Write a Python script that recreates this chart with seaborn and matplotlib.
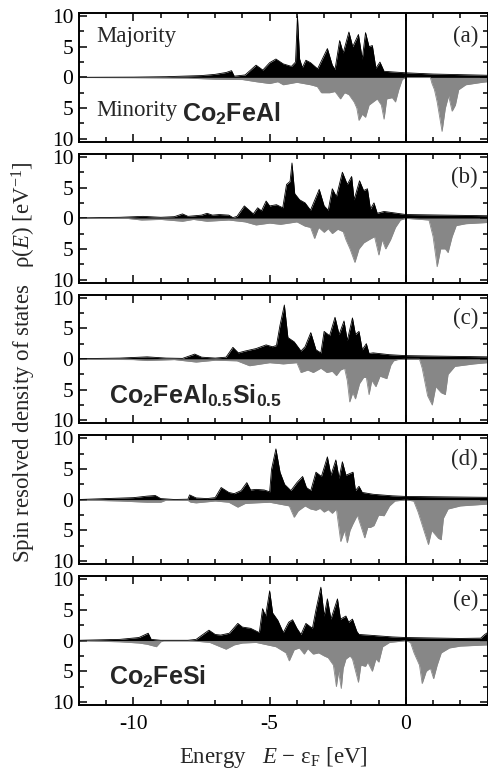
import numpy as np
import pandas as pd
import matplotlib
matplotlib.use("Agg")
import matplotlib.pyplot as plt
from matplotlib.ticker import MultipleLocator, FuncFormatter
import seaborn as sns

# ---------------- data ----------------
panel_tags = ["(a)", "(b)", "(c)", "(d)", "(e)"]

E_maj_a = [-12, -10, -8.8, -7.5, -7.0, -6.6, -6.4, -6.3, -5.9, -5.5, -5.25, -5.0, -4.77, -4.5, -4.2, -4.05, -3.98, -3.9, -3.8, -3.67, -3.5, -3.24, -2.88, -2.7, -2.6, -2.43, -2.3, -2.09, -1.95, -1.74, -1.6, -1.48, -1.35, -1.23, -1.1, -0.95, -0.8, -0.5, 0, 1, 2, 3]
D_maj_a = [0.02, 0.05, 0.12, 0.3, 0.5, 0.8, 1.1, 0.2, 0.4, 2.0, 1.2, 2.4, 3.0, 2.2, 1.8, 2.5, 10.0, 3.0, 1.6, 2.8, 2.4, 1.4, 4.7, 2.0, 1.3, 6.0, 4.0, 7.4, 5.0, 7.0, 3.0, 7.3, 5.0, 5.2, 1.5, 2.5, 1.0, 0.9, 0.75, 0.55, 0.45, 0.35]
E_min_a = [-12, -10, -8, -7, -6, -5.5, -5.0, -4.7, -4.5, -4.0, -3.5, -3.25, -3.1, -2.8, -2.6, -2.4, -2.25, -2.09, -1.9, -1.8, -1.72, -1.6, -1.48, -1.35, -1.2, -1.05, -0.9, -0.8, -0.7, -0.5, -0.38, -0.26, -0.13, 0, 0.9, 0.96, 1.05, 1.15, 1.33, 1.45, 1.57, 1.7, 1.82, 1.94, 2.2, 2.8, 3]
D_min_a = [0.02, 0.05, 0.12, 0.3, 0.35, 0.7, 1.0, 0.7, 1.2, 0.8, 1.2, 1.5, 2.5, 2.5, 2.3, 3.5, 2.5, 2.8, 4.0, 5.0, 7.0, 6.0, 6.5, 4.5, 4.0, 3.5, 4.5, 6.8, 3.5, 3.3, 4.0, 2.0, 0.3, 0.02, 0.02, 1.0, 2.0, 4.0, 8.8, 5.0, 3.0, 5.5, 4.5, 2.0, 1.2, 0.8, 0.7]

E_maj_b = [-12, -10.5, -9.65, -9.0, -8.5, -8.2, -8.0, -7.5, -7.3, -7.1, -6.85, -6.5, -6.35, -6.2, -5.93, -5.6, -5.44, -5.3, -5.13, -5.0, -4.75, -4.52, -4.38, -4.25, -4.18, -4.08, -3.9, -3.7, -3.5, -3.18, -3.0, -2.85, -2.7, -2.55, -2.33, -2.15, -1.99, -1.9, -1.7, -1.55, -1.41, -1.3, -1.17, -1.05, -0.8, 0, 1.5, 3]
D_maj_b = [0.05, 0.15, 0.3, 0.15, 0.25, 0.7, 0.3, 0.5, 0.8, 0.5, 0.6, 0.5, 0.1, 0.3, 2.0, 0.7, 1.7, 1.2, 2.8, 2.0, 2.2, 1.7, 5.5, 6.0, 9.0, 4.0, 3.0, 2.5, 1.3, 4.7, 2.0, 1.3, 4.8, 3.5, 7.5, 5.5, 6.8, 3.0, 6.1, 4.5, 4.8, 1.5, 2.5, 0.8, 1.1, 0.6, 0.5, 0.4]
E_min_b = [-12, -10.2, -9.7, -9.0, -8.2, -7.8, -7.3, -6.5, -5.9, -5.5, -5.0, -4.6, -4.0, -3.7, -3.5, -3.35, -3.2, -3.0, -2.85, -2.7, -2.5, -2.3, -2.2, -2.05, -1.87, -1.72, -1.54, -1.35, -1.15, -0.99, -0.87, -0.74, -0.56, -0.38, -0.2, 0, 0.85, 1.0, 1.15, 1.28, 1.45, 1.55, 1.7, 1.85, 2.2, 3]
D_min_b = [0.02, 0.05, 0.3, 0.2, 0.5, 0.2, 0.5, 0.3, 0.6, 1.1, 0.8, 1.0, 0.6, 1.3, 1.5, 3.3, 1.5, 2.3, 1.7, 2.5, 1.8, 2.2, 3.5, 5.0, 7.2, 5.0, 4.0, 3.5, 3.0, 6.0, 3.5, 5.0, 3.5, 1.5, 0.3, 0.02, 0.3, 3.0, 7.9, 5.0, 5.0, 5.6, 3.0, 1.2, 0.9, 0.7]

E_maj_c = [-12, -10.5, -9.5, -8.8, -8.2, -7.75, -7.5, -7.0, -6.6, -6.35, -6.15, -5.9, -5.5, -5.13, -4.9, -4.75, -4.62, -4.46, -4.33, -4.1, -3.85, -3.7, -3.49, -3.3, -3.12, -3.0, -2.8, -2.6, -2.45, -2.27, -2.15, -1.96, -1.85, -1.72, -1.6, -1.45, -1.35, -1.2, -0.6, 0, 3]
D_maj_c = [0.05, 0.15, 0.35, 0.15, 0.1, 0.8, 0.3, 0.15, 0.3, 1.9, 1.0, 1.3, 1.7, 2.3, 2.0, 2.2, 5.5, 8.8, 3.5, 2.8, 1.3, 2.0, 4.3, 1.5, 1.0, 4.5, 3.8, 6.8, 4.0, 6.2, 3.0, 6.7, 4.0, 4.5, 1.5, 2.5, 0.9, 1.0, 0.7, 0.55, 0.35]
E_min_c = [-12, -10, -9.5, -8.5, -7.7, -7.0, -6.2, -5.74, -5.0, -4.5, -4.0, -3.85, -3.6, -3.4, -3.12, -2.9, -2.7, -2.55, -2.4, -2.25, -2.15, -2.06, -1.95, -1.85, -1.7, -1.55, -1.45, -1.35, -1.25, -1.1, -0.95, -0.7, -0.55, -0.45, -0.3, 0, 0.5, 0.6, 0.8, 0.97, 1.1, 1.3, 1.45, 1.55, 1.8, 2.5, 3]
D_min_c = [0.02, 0.1, 0.25, 0.1, 0.5, 0.2, 0.3, 1.1, 0.6, 0.8, 0.6, 2.2, 1.8, 2.2, 1.5, 2.2, 2.0, 2.7, 1.8, 1.5, 3.5, 7.0, 5.5, 6.5, 4.0, 3.0, 3.0, 5.8, 3.5, 4.5, 2.8, 3.2, 1.0, 0.3, 0.1, 0.02, 0.02, 1.5, 6.0, 7.5, 4.5, 5.5, 5.8, 2.5, 1.2, 0.8, 0.6]

E_maj_d = [-12, -11, -10, -9.5, -9.2, -9.0, -8.5, -8.0, -7.94, -7.7, -7.3, -7.0, -6.78, -6.5, -6.3, -6.05, -5.84, -5.7, -5.5, -5.2, -5.0, -4.93, -4.77, -4.62, -4.45, -4.22, -4.0, -3.79, -3.65, -3.49, -3.3, -3.1, -2.88, -2.75, -2.57, -2.45, -2.33, -2.2, -1.94, -1.85, -1.72, -1.6, -1.2, -0.5, 0, 3]
D_maj_d = [0.05, 0.2, 0.35, 0.6, 0.7, 0.2, 0.05, 0.1, 0.8, 0.3, 0.2, 0.35, 2.0, 1.2, 1.0, 1.5, 2.8, 1.6, 1.7, 1.6, 1.3, 5.0, 8.3, 4.5, 2.5, 1.5, 2.8, 3.8, 2.0, 1.5, 4.5, 3.8, 7.0, 4.0, 6.5, 3.5, 6.2, 4.0, 4.5, 1.5, 2.2, 1.2, 0.9, 0.65, 0.55, 0.4]
E_min_d = [-12, -10.5, -9.5, -9.0, -8.8, -8.0, -7.9, -7.7, -7.0, -6.5, -6.17, -5.9, -5.5, -5.0, -4.28, -4.1, -3.95, -3.7, -3.5, -3.3, -3.15, -3.0, -2.85, -2.7, -2.55, -2.39, -2.25, -2.15, -2.05, -1.95, -1.78, -1.51, -1.4, -1.3, -1.17, -1.0, -0.8, -0.6, -0.4, 0, 0.29, 0.45, 0.7, 0.83, 0.95, 1.2, 1.3, 1.38, 1.55, 2.0, 3]
D_min_d = [0.02, 0.2, 0.4, 0.4, 0.05, 0.1, 0.4, 0.5, 0.2, 0.4, 1.2, 0.6, 0.5, 0.4, 1.0, 2.85, 1.8, 1.0, 1.5, 1.7, 1.4, 2.0, 1.6, 2.2, 1.5, 6.8, 5.0, 7.0, 5.0, 4.0, 2.5, 6.2, 4.5, 4.5, 4.2, 2.5, 2.6, 1.0, 0.2, 0.02, 0.2, 2.0, 5.5, 7.3, 5.0, 6.3, 6.5, 3.0, 1.5, 1.0, 0.7]

E_maj_e = [-12, -10.5, -9.8, -9.46, -9.35, -9.0, -8.0, -7.7, -7.23, -7.0, -6.8, -6.48, -6.17, -6.0, -5.7, -5.38, -5.26, -5.15, -5.0, -4.89, -4.7, -4.5, -4.3, -4.16, -4.0, -3.85, -3.67, -3.43, -3.3, -3.12, -3.0, -2.88, -2.75, -2.51, -2.4, -2.2, -2.1, -1.96, -1.8, -1.72, -1.4, -0.5, 0, 2.0, 2.75, 2.9, 3]
D_maj_e = [0.05, 0.2, 0.5, 1.2, 0.2, 0.05, 0.05, 0.2, 1.7, 1.0, 0.9, 1.2, 2.8, 2.2, 2.0, 1.3, 5.2, 4.0, 8.1, 4.5, 3.3, 1.3, 3.0, 3.4, 2.0, 1.0, 2.8, 2.0, 5.0, 8.7, 4.0, 6.8, 3.5, 6.8, 3.5, 4.0, 3.0, 3.5, 1.5, 1.0, 0.9, 0.6, 0.5, 0.35, 0.4, 1.0, 1.3]
E_min_e = [-12, -10.5, -9.8, -9.5, -9.16, -9.0, -8.9, -8.0, -7.7, -7.2, -6.6, -6.3, -6.0, -5.5, -4.77, -4.4, -4.28, -4.1, -3.91, -3.73, -3.6, -3.4, -3.2, -3.0, -2.85, -2.66, -2.55, -2.47, -2.37, -2.3, -2.2, -2.05, -1.96, -1.74, -1.65, -1.48, -1.4, -1.23, -1.1, -0.99, -0.85, -0.6, 0, 0.17, 0.3, 0.5, 0.6, 0.75, 0.9, 1.02, 1.15, 1.3, 1.6, 2.0, 3]
D_min_e = [0.02, 0.2, 0.4, 0.6, 1.0, 0.2, 0.05, 0.05, 0.1, 0.3, 1.4, 0.7, 0.4, 0.3, 1.0, 2.0, 3.3, 1.5, 1.2, 2.2, 1.3, 2.2, 2.0, 2.5, 2.8, 4.0, 7.5, 5.0, 7.8, 4.5, 3.0, 2.5, 3.0, 6.8, 4.0, 4.2, 3.5, 5.0, 3.0, 3.5, 1.0, 0.3, 0.02, 0.3, 2.0, 4.0, 7.0, 5.0, 4.5, 6.2, 4.0, 2.0, 1.2, 0.9, 0.7]

x_ticks = [-10, -5, 0]
y_ticks = [-10, -5, 0, 5, 10]

# ---------------- style ----------------
sns.set_theme(style="ticks")
plt.rcParams["font.family"] = ["Liberation Serif", "DejaVu Serif"]
plt.rcParams["mathtext.fontset"] = "custom"
plt.rcParams["mathtext.rm"] = "Liberation Serif"
plt.rcParams["mathtext.it"] = "Liberation Serif:italic"
plt.rcParams["mathtext.bf"] = "Liberation Sans:bold"
plt.rcParams["mathtext.sf"] = "Liberation Sans"
plt.rcParams["axes.linewidth"] = 1.4

FS = 16.5
TICK_FS = 15.5
MAJ_COLOR = "#000000"
MIN_COLOR = "#878787"

panels = [
    (E_maj_a, D_maj_a, E_min_a, D_min_a),
    (E_maj_b, D_maj_b, E_min_b, D_min_b),
    (E_maj_c, D_maj_c, E_min_c, D_min_c),
    (E_maj_d, D_maj_d, E_min_d, D_min_d),
    (E_maj_e, D_maj_e, E_min_e, D_min_e),
]

fig, axes = plt.subplots(5, 1, figsize=(4.89, 7.73), dpi=100, sharex=True)
fig.subplots_adjust(left=79 / 489, right=0.997, top=1 - 13 / 773, bottom=1 - 705 / 773, hspace=0.093)

for ax, (em, dm, en, dn), tag in zip(axes, panels, panel_tags):
    df_maj = pd.DataFrame({"E": em, "rho": dm})
    df_min = pd.DataFrame({"E": en, "rho": -np.asarray(dn)})
    ax.fill_between(df_min["E"], 0, df_min["rho"], color=MIN_COLOR, lw=0)
    sns.lineplot(data=df_min, x="E", y="rho", ax=ax, color=MIN_COLOR, lw=0.6, sort=False)
    ax.fill_between(df_maj["E"], 0, df_maj["rho"], color=MAJ_COLOR, lw=0)
    sns.lineplot(data=df_maj, x="E", y="rho", ax=ax, color=MAJ_COLOR, lw=0.6, sort=False)
    ax.axvline(0, color="black", lw=1.4)
    ax.set_xlim(-12, 3)
    ax.set_ylim(-10.5, 10.5)
    ax.set_xlabel("")
    ax.set_ylabel("")
    ax.set_yticks(y_ticks)
    ax.yaxis.set_major_formatter(FuncFormatter(lambda v, p: f"{abs(int(round(v)))}"))
    ax.yaxis.set_minor_locator(MultipleLocator(2.5))
    ax.set_xticks(x_ticks)
    ax.xaxis.set_minor_locator(MultipleLocator(1))
    ax.tick_params(which="both", direction="in", top=True, right=True, labelsize=TICK_FS,
                   width=1.1, colors="black")
    ax.tick_params(axis="y", pad=4)
    ax.tick_params(axis="x", pad=7)
    ax.tick_params(which="major", length=6)
    ax.tick_params(which="minor", length=3.5)
    for s in ax.spines.values():
        s.set_color("black")
    ax.text(2.65, 6.6, tag, ha="right", va="center", fontsize=FS)

axes[-1].xaxis.set_major_formatter(FuncFormatter(lambda v, p: f"{int(v)}"))

# annotations
axes[0].text(-11.35, 6.6, "Majority", ha="left", va="center", fontsize=FS)
axes[0].text(-11.35, -5.4, "Minority", ha="left", va="center", fontsize=FS)
sans = ["Liberation Sans", "DejaVu Sans"]
CFS = 18
axes[0].text(-8.2, -5.9, r"Co$_\mathbf{2}$FeAl", ha="left", va="center", fontsize=CFS,
             fontweight="bold", family=sans)
axes[2].text(-10.9, -6.0, r"Co$_\mathbf{2}$FeAl$_\mathbf{0.5}$Si$_\mathbf{0.5}$", ha="left", va="center",
             fontsize=CFS, fontweight="bold", family=sans)
axes[4].text(-10.9, -5.9, r"Co$_\mathbf{2}$FeSi", ha="left", va="center", fontsize=CFS,
             fontweight="bold", family=sans)

fig.text(273.5 / 489, 1 - 757 / 773, r"Energy   $E$ − ε$_\mathrm{F}$ [eV]",
         ha="center", va="center", fontsize=FS)
fig.text(24 / 489, 1 - 362 / 773, r"Spin resolved density of states   ρ($E$) [eV$^{-1}$]",
         ha="center", va="center", rotation=90, fontsize=FS)

fig.savefig("out.png", dpi=100)
